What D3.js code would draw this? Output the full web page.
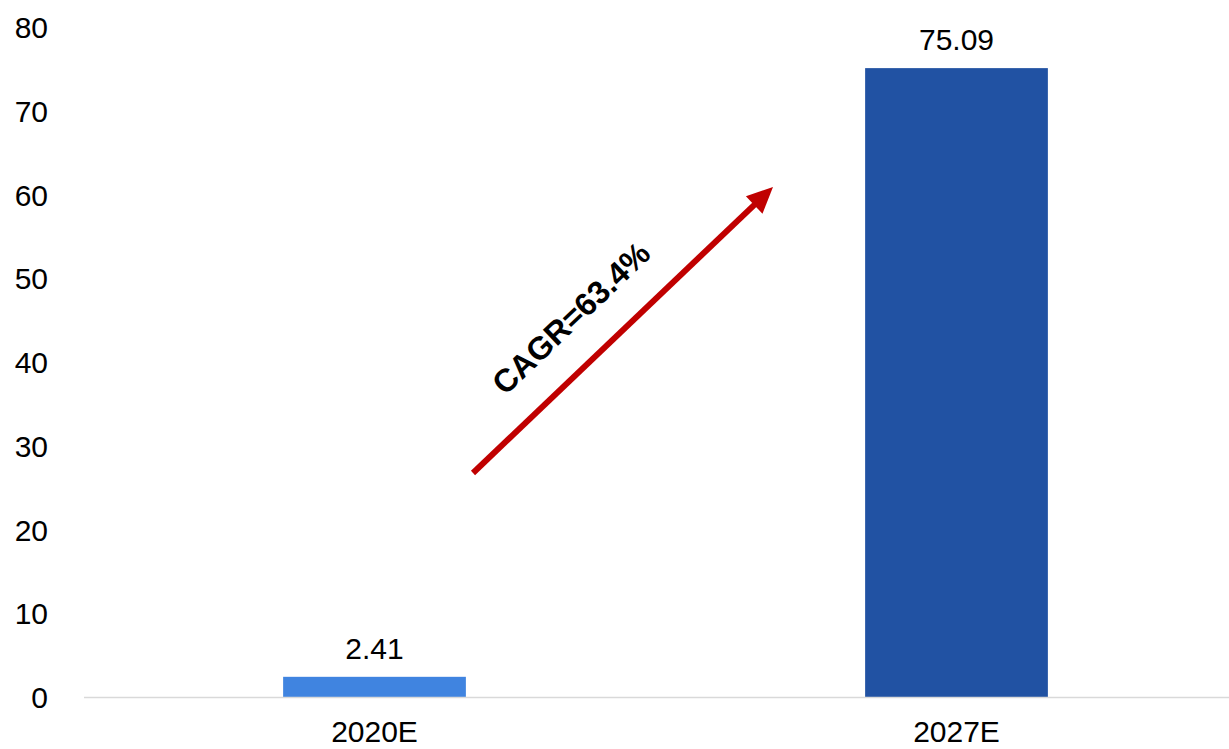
<!DOCTYPE html>
<html>
<head>
<meta charset="utf-8">
<script src="https://cdn.jsdelivr.net/npm/d3@7/dist/d3.min.js"></script>
<style>
  html, body { margin: 0; padding: 0; background: #fff; }
  svg { display: block; font-family: Arial, "Liberation Sans", sans-serif; }
</style>
</head>
<body>
<svg id="chart" width="1229" height="749"></svg>
<script>
// Market size by year (estimates)
const categories = ["2020E", "2027E"];
const values = [2.41, 75.09];
const yTicks = [0, 10, 20, 30, 40, 50, 60, 70, 80];
const barColors = ["#4084e0", "#2152a3"];
const cagrLabel = "CAGR=63.4%";

const svg = d3.select("#chart");
const W = 1229, H = 749;
const fontSize = 30;

const x = d3.scaleBand()
  .domain(categories)
  .range([83.5, 1247.5])
  .paddingInner(0.686)
  .paddingOuter(0.343);

const y = d3.scaleLinear()
  .domain([0, 80])
  .range([697, 27]);

// Y axis labels (no axis line, no ticks)
const yAxis = d3.axisLeft(y).tickValues(yTicks).tickSize(0).tickPadding(0);
const gy = svg.append("g").attr("transform", "translate(48,0)").call(yAxis);
gy.select(".domain").remove();
gy.selectAll("text")
  .attr("font-size", fontSize)
  .attr("font-family", "Arial, 'Liberation Sans', sans-serif")
  .attr("fill", "#000")
  .attr("dy", "0.35em");

// Bars
svg.append("g").selectAll("rect")
  .data(categories)
  .join("rect")
  .attr("x", d => x(d))
  .attr("width", x.bandwidth())
  .attr("y", (d, i) => y(values[i]))
  .attr("height", (d, i) => y(0) - y(values[i]))
  .attr("fill", (d, i) => barColors[i]);

// Baseline
svg.append("line")
  .attr("x1", 84).attr("x2", W)
  .attr("y1", y(0) + 0.5).attr("y2", y(0) + 0.5)
  .attr("stroke", "#d9d9d9").attr("stroke-width", 1.5);

// X axis labels
const xAxis = d3.axisBottom(x).tickSize(0).tickPadding(0);
const gx = svg.append("g").attr("transform", `translate(0,${y(0)})`).call(xAxis);
gx.select(".domain").remove();
gx.selectAll("text")
  .attr("font-size", fontSize)
  .attr("font-family", "Arial, 'Liberation Sans', sans-serif")
  .attr("fill", "#000")
  .attr("dy", null)
  .attr("y", 45);

// Value labels
svg.append("g").selectAll("text")
  .data(categories)
  .join("text")
  .attr("x", d => x(d) + x.bandwidth() / 2)
  .attr("y", (d, i) => y(values[i]) - 18)
  .attr("text-anchor", "middle")
  .attr("font-size", fontSize)
  .attr("fill", "#000")
  .text((d, i) => values[i].toFixed(2));

// Growth arrow
const x0 = 473, y0 = 473, x1 = 773, y1 = 187;
const ang = Math.atan2(y1 - y0, x1 - x0);
const headLen = 26, headHalf = 12;
const bx = x1 - headLen * Math.cos(ang), by = y1 - headLen * Math.sin(ang);
svg.append("line")
  .attr("x1", x0).attr("y1", y0)
  .attr("x2", bx + 2 * Math.cos(ang)).attr("y2", by + 2 * Math.sin(ang))
  .attr("stroke", "#c00000").attr("stroke-width", 6);
svg.append("path")
  .attr("d", d3.line()([
    [x1, y1],
    [bx - headHalf * Math.sin(ang), by + headHalf * Math.cos(ang)],
    [bx + headHalf * Math.sin(ang), by - headHalf * Math.cos(ang)]
  ]) + "Z")
  .attr("fill", "#c00000");

// CAGR annotation
svg.append("text")
  .attr("transform", `translate(571,318) rotate(${ang * 180 / Math.PI})`)
  .attr("text-anchor", "middle")
  .attr("dy", "0.35em")
  .attr("font-size", 32)
  .attr("font-weight", "bold")
  .attr("fill", "#000")
  .text(cagrLabel);
</script>
</body>
</html>
